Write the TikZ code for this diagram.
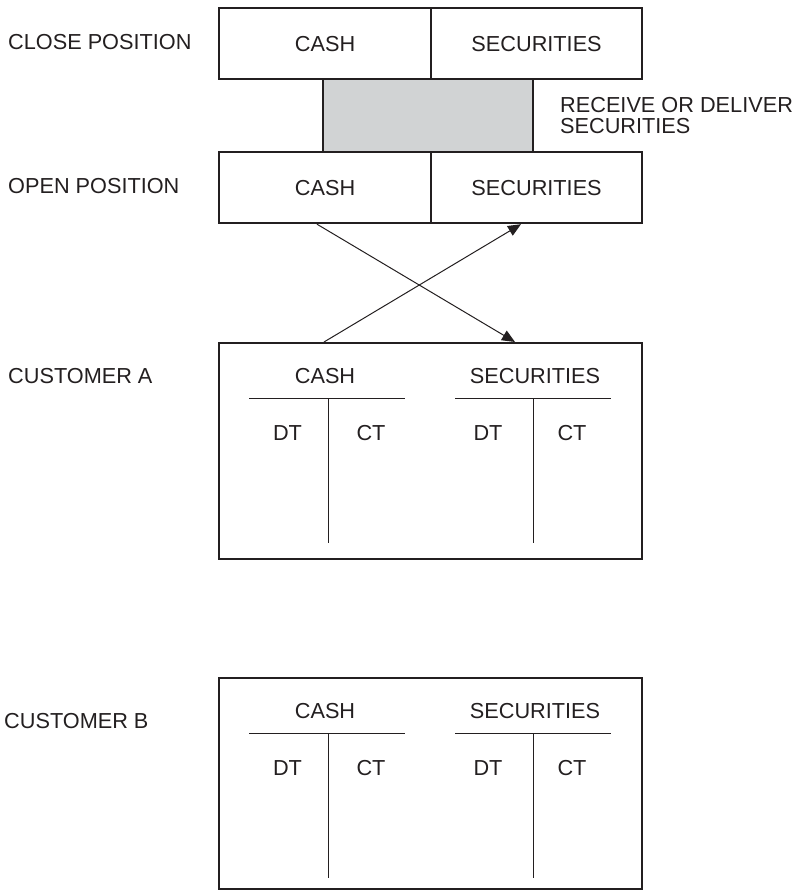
\documentclass[tikz,border=0pt]{standalone}
\usepackage{fontspec}
\setmainfont{Liberation Sans}
\usetikzlibrary{calc,arrows.meta}
\definecolor{ink}{RGB}{35,31,32}
\definecolor{shade}{RGB}{209,211,212}
\begin{document}
\begin{tikzpicture}[x=1pt,y=-1pt,
  every node/.style={text=ink},
  lbl/.style={inner sep=0pt,font=\fontsize{21.7}{21}\selectfont},
  box/.style={draw=ink,line width=2.2pt,rectangle,inner sep=0pt,anchor=north west,
    font=\fontsize{21.7}{21}\selectfont},
  rule/.style={draw=ink,line width=1pt},
  flow/.style={draw=ink,line width=1pt,-{Triangle[length=13pt,width=11pt]}},
  taccts/.pic={
    \node[lbl,anchor=base] (-cash) at (107,41) {CASH};
    \node[lbl,anchor=base] (-sec) at (317,41) {SECURITIES};
    \draw[rule] (31,56) -- (187,56);
    \draw[rule] (110,56) -- (110,201);
    \draw[rule] (237,56) -- (393,56);
    \draw[rule] (315,56) -- (315,201);
    \node[lbl,anchor=base] (-cdt) at (69.5,98) {DT};
    \node[lbl,anchor=base] (-cct) at (153,98) {CT};
    \node[lbl,anchor=base] (-sdt) at (270,98) {DT};
    \node[lbl,anchor=base] (-sct) at (354,98) {CT};
  }]
\useasboundingbox (0,0) rectangle (795,891);

% side labels
\node[lbl,anchor=base west] (lclose) at (8,49) {CLOSE POSITION};
\node[lbl,anchor=base west] (lopen) at (8,193) {OPEN POSITION};
\node[lbl,anchor=base west] (lcusta) at (8,383) {CUSTOMER A};
\node[lbl,anchor=base west] (lcustb) at (4,728) {CUSTOMER B};
\node[lbl,anchor=north west,align=left] (lrecv) at (560,97.5)
  {RECEIVE OR DELIVER\\SECURITIES};

% dealer positions
\node[box,fill=shade,minimum width=210pt,minimum height=73pt] (settle) at (322,78) {};
\node[box,minimum width=212pt,minimum height=71pt] (closecash) at (218,7) {CASH};
\node[box,minimum width=211pt,minimum height=71pt] (closesec) at (430,7) {SECURITIES};
\node[box,minimum width=212pt,minimum height=71pt] (opencash) at (218,151) {CASH};
\node[box,minimum width=211pt,minimum height=71pt] (opensec) at (430,151) {SECURITIES};

% customer accounts
\node[box,minimum width=423pt,minimum height=216pt] (custa) at (218,342) {};
\node[box,minimum width=423pt,minimum height=211pt] (custb) at (218,677) {};
\pic (ta) at (custa.north west) {taccts};
\pic (tb) at (custb.north west) {taccts};

% cash and securities exchange
\draw[flow] ($(opencash.south west)+(99,0)$) -- ($(custa.north west)+(297,0)$);
\draw[flow] ($(custa.north west)+(106,0)$) -- ($(opensec.south west)+(91,0)$);
\end{tikzpicture}
\end{document}
